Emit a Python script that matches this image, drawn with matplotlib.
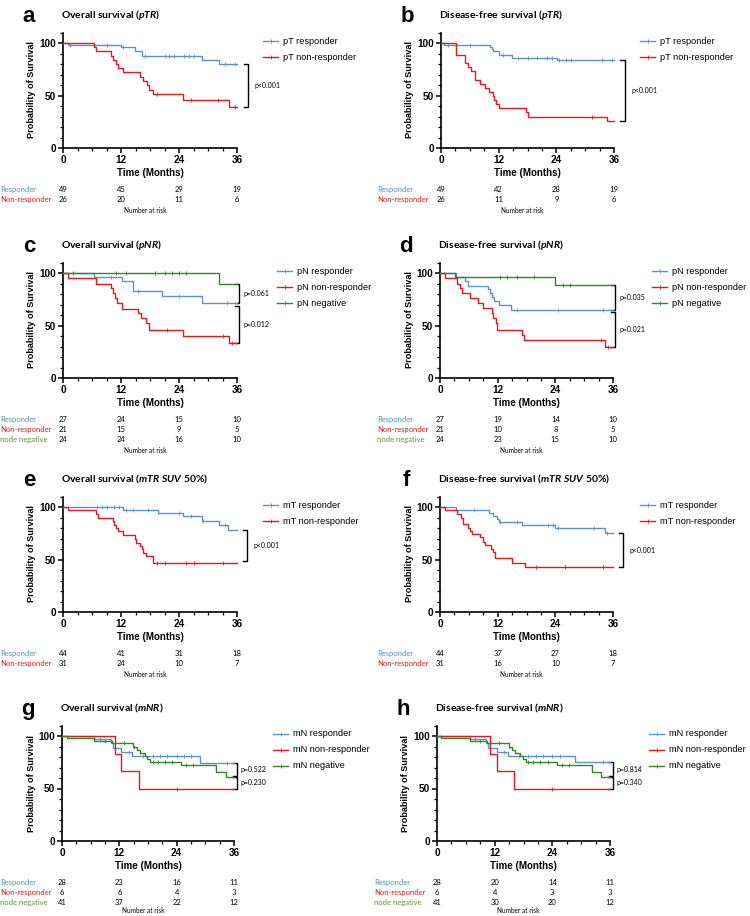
import matplotlib
matplotlib.use('Agg')
import matplotlib.pyplot as plt
from matplotlib.lines import Line2D
from matplotlib.ticker import MultipleLocator
import numpy as np

plt.rcParams['font.family'] = ['Liberation Sans', 'DejaVu Sans']
plt.rcParams['mathtext.fontset'] = 'custom'
plt.rcParams['mathtext.it'] = 'Lato:italic:bold'
plt.rcParams['mathtext.rm'] = 'Lato:bold'

W, H = 750, 916
BLUE = '#5b93cc'
RED = '#e8161e'
GREEN = '#2f8a22'
TBLUE = '#4f93bd'
TRED = '#e3181b'
TGREEN = '#5a9a3a'

risk_times = [0, 12, 24, 36]

# ---- a: overall survival, pTR
a_resp_t = [1.0, 12.1, 14.9, 16.3, 28.7, 32.2]
a_resp_s = [98, 96, 92, 88, 84, 80]
a_resp_c = [1.5, 9, 12.5, 17, 21, 22, 23, 25, 26, 27, 33.5, 35.5]
a_non_t = [6.4, 6.9, 10.0, 10.4, 10.9, 11.3, 12.5, 15.9, 16.5, 17.3, 17.8, 18.6, 24.8, 34.3]
a_non_s = [96, 92, 88, 84, 80, 76, 72, 68, 64, 60, 55, 51, 46, 39]
a_non_c = [19.5, 26.5, 32, 35.5]
a_risk_resp = [49, 45, 29, 19]
a_risk_non = [26, 20, 11, 6]

# ---- b: disease-free survival, pTR
b_resp_t = [0.6, 10.2, 10.6, 10.9, 12.0, 14.7, 24.1]
b_resp_s = [98, 96, 94, 92, 89, 86, 84]
b_resp_c = [1.5, 6, 13, 16, 18, 20, 22, 23, 24.5, 26, 27, 33.5, 35.5]
b_non_t = [3.2, 5.0, 5.6, 6.2, 7.0, 8.2, 9.2, 9.9, 10.8, 11.1, 11.5, 12.1, 17.7, 18.0, 34.6]
b_non_s = [89, 81, 77, 73, 65, 61, 57, 53, 50, 46, 42, 38, 34, 30, 26]
b_non_c = [31.5]
b_risk_resp = [49, 42, 28, 19]
b_risk_non = [26, 11, 9, 6]

# ---- c: overall survival, pNR
c_resp_t = [6.4, 12.3, 14.5, 20.4, 28.7]
c_resp_s = [96, 92, 83, 78, 71]
c_resp_c = [10, 15.5, 24, 34]
c_non_t = [1.0, 6.9, 10.0, 10.4, 10.7, 11.1, 12.3, 15.6, 16.1, 17.2, 17.7, 24.8, 34.3]
c_non_s = [95, 90, 86, 81, 76, 71, 66, 62, 57, 52, 46, 40, 33]
c_non_c = [21.5, 33, 35]
c_neg_t = [32.2]
c_neg_s = [90]
c_neg_c = [2, 11, 13, 19, 21, 22.5, 24, 25.5]
c_risk_resp = [27, 24, 15, 10]
c_risk_non = [21, 15, 9, 5]
c_risk_neg = [24, 24, 16, 10]

# ---- d: disease-free survival, pNR
d_resp_t = [3.3, 5.2, 5.9, 9.9, 10.4, 10.8, 11.2, 12.2, 14.8]
d_resp_s = [96, 92, 88, 85, 81, 77, 73, 70, 65]
d_resp_c = [16, 24.5, 34]
d_non_t = [1.0, 3.5, 4.2, 4.6, 6.3, 8.0, 9.0, 10.8, 11.1, 11.6, 11.8, 17.0, 17.4, 34.3]
d_non_s = [95, 90, 86, 81, 76, 71, 67, 62, 57, 52, 46, 41, 36, 30]
d_non_c = [33.5, 35]
d_neg_t = [3.1, 24.0]
d_neg_s = [96, 89]
d_neg_c = [12.5, 14, 16, 19.5, 25.5, 27]
d_risk_resp = [27, 19, 14, 10]
d_risk_non = [21, 10, 8, 5]
d_risk_neg = [24, 23, 15, 10]

# ---- e: overall survival, mTR SUV 50%
e_resp_t = [12.4, 19.7, 24.8, 28.8, 32.3, 34.1]
e_resp_s = [97, 94, 91, 87, 83, 78]
e_resp_c = [7, 8, 9, 10.5, 11.5, 13, 14.5, 17.5, 24, 26.5, 29, 33.5]
e_non_t = [1.0, 6.9, 7.3, 10.3, 10.6, 11.0, 11.4, 12.4, 14.8, 15.1, 15.9, 16.3, 16.6, 17.2, 18.6]
e_non_s = [97, 93, 90, 87, 83, 80, 77, 73, 70, 66, 63, 60, 56, 53, 47]
e_non_c = [19.5, 21, 25.5, 27, 33]
e_risk_resp = [44, 41, 31, 18]
e_risk_non = [31, 24, 10, 7]

# ---- f: disease-free survival, mTR SUV 50%
f_resp_t = [3.3, 10.2, 11.1, 11.8, 12.3, 17.0, 23.9, 34.3]
f_resp_s = [97, 94, 91, 89, 86, 83, 80, 75]
f_resp_c = [7, 12.5, 16, 22.5, 23.5, 24.5, 32, 34.8]
f_non_t = [1.0, 3.5, 4.3, 4.7, 5.8, 6.3, 6.6, 8.3, 9.0, 9.3, 10.7, 11.0, 11.4, 14.9, 17.7]
f_non_s = [97, 93, 90, 84, 80, 77, 74, 71, 67, 64, 60, 57, 51, 47, 43]
f_non_c = [20, 26, 34]
f_risk_resp = [44, 37, 27, 18]
f_risk_non = [31, 16, 10, 7]

# ---- g: overall survival, mNR
g_resp_t = [6.8, 10.3, 10.7, 12.4, 14.7, 28.8]
g_resp_s = [97, 93, 89, 85, 81, 74]
g_resp_c = [8, 14, 17, 19, 20.5, 22, 24, 25.5, 27, 34.5]
g_non_t = [11.0, 12.4, 16.1]
g_non_s = [83, 67, 50]
g_non_c = [24]
g_neg_t = [1.1, 6.8, 10.5, 14.9, 15.7, 16.3, 17.3, 17.8, 18.5, 25.0, 32.3, 34.3]
g_neg_s = [98, 95, 93, 90, 87, 84, 81, 78, 75, 72, 66, 61]
g_neg_c = [9, 13, 15, 19, 20, 21.5, 23, 26, 27.5]
g_risk_resp = [28, 23, 16, 11]
g_risk_non = [6, 6, 4, 3]
g_risk_neg = [41, 37, 22, 12]

# ---- h: disease-free survival, mNR
h_resp_t = [6.8, 10.3, 10.7, 12.4, 14.7, 28.7]
h_resp_s = [97, 93, 89, 85, 81, 75]
h_resp_c = [8, 14, 17, 19, 20.5, 22, 24, 25.5, 34.5]
h_non_t = [11.0, 12.4, 16.0]
h_non_s = [83, 67, 50]
h_non_c = [24]
h_neg_t = [0.9, 6.8, 10.4, 14.9, 15.6, 16.3, 17.2, 17.9, 18.5, 24.9, 32.3, 34.1]
h_neg_s = [98, 95, 93, 90, 87, 84, 81, 78, 75, 72, 66, 61]
h_neg_c = [9, 13, 15, 19, 20, 21.5, 23, 26, 27.5]
h_risk_resp = [28, 20, 14, 11]
h_risk_non = [6, 4, 3, 3]
h_risk_neg = [41, 30, 20, 12]

fig = plt.figure(figsize=(7.5, 9.16), dpi=100)


def ftext(x, y, s, **kw):
    fig.text(x / W, 1 - y / H, s, **kw)


def panel(letter, title, tag, L, R, y0, curves, risk, brackets, bx, tx, leg_dx, lab_x):
    ax = fig.add_axes([L / W, 1 - y0 / H, (R - L) / W, 115.5 / H])
    ax.set_xlim(0, 36)
    ax.set_ylim(0, 110)
    for sp in ['top', 'right']:
        ax.spines[sp].set_visible(False)
    for sp in ['left', 'bottom']:
        ax.spines[sp].set_linewidth(1.2)
    ax.set_xticks(risk_times)
    ax.set_yticks([0, 50, 100])
    ax.xaxis.set_minor_locator(MultipleLocator(3))
    ax.yaxis.set_minor_locator(MultipleLocator(10))
    ax.tick_params(which='major', length=3.5, width=1.1, labelsize=7.2, pad=1.5)
    ax.tick_params(which='minor', length=2, width=0.9)
    for lbl in ax.get_xticklabels() + ax.get_yticklabels():
        lbl.set_fontweight('bold')

    for i, (t, s, cens, col, lab) in enumerate(curves):
        xs = np.array([0] + t + [36])
        ys = np.array([100] + s + [s[-1]])
        ax.step(xs, ys, where='post', color=col, lw=1.0, clip_on=False, zorder=3)
        idx = np.searchsorted(xs, cens, side='right') - 1
        ax.plot(cens, ys[idx], ls='none', marker='|', ms=3, mew=0.6, color=col, zorder=3)
        # legend entry
        ly = y0 - 107 + 16 * i
        x1 = R + leg_dx
        fig.add_artist(Line2D([x1 / W, (x1 + 15) / W], [1 - ly / H] * 2, color=col, lw=1.0))
        fig.add_artist(Line2D([(x1 + 7.5) / W], [1 - ly / H], color=col, marker='|', ms=3, mew=0.6))
        ftext(x1 + 20, ly, lab, fontsize=6.6, va='center')

    for top, bot, ptxt in brackets:
        ax.plot([bx - 0.9, bx, bx, bx - 0.9], [top, top, bot, bot], color='k',
                lw=1.0, clip_on=False)
        ax.text(bx + tx, (top + bot) / 2, ptxt, fontsize=5, family='Lato', va='center')

    ftext(L - 34, y0 - 126, letter, fontsize=16, fontweight='bold', ha='center', va='baseline')
    ftext(L - 2, y0 - 130, title + r'($\mathit{' + tag + r'}$)', fontsize=7.5,
          fontweight='bold', family='Lato', va='baseline')
    ftext(L - 31, y0 - 58, 'Probability of Survival', fontsize=6.6, fontweight='bold',
          rotation=90, ha='center', va='center')
    ftext((L + R) / 2, y0 + 25, 'Time (Months)', fontsize=7, fontweight='bold',
          ha='center', va='center')

    for j, (name, vals, col) in enumerate(risk):
        ry = y0 + 41.5 + 10 * j
        ftext(lab_x, ry, name, fontsize=5.5, family='Lato', color=col, va='center')
        for t, v in zip(risk_times, vals):
            ftext(L + t / 36 * (R - L), ry, str(v), fontsize=5.5, family='Lato',
                  ha='center', va='center')
    ny = min(y0 + 41.5 + 10 * len(risk) + 1.0, 910.5)
    ftext((L + R) / 2 - 5, ny, 'Number at risk',
          fontsize=4.7, family='Lato', ha='center', va='center')


panel('a', 'Overall survival ', 'pTR', 63, 237, 148,
      [(a_resp_t, a_resp_s, a_resp_c, BLUE, 'pT responder'),
       (a_non_t, a_non_s, a_non_c, RED, 'pT non-responder')],
      [('Responder', a_risk_resp, TBLUE), ('Non-responder', a_risk_non, TRED)],
      [(a_resp_s[-1], a_non_s[-1], 'p<0.001')], 38.3, 1.4, 26, 0)

panel('b', 'Disease-free survival ', 'pTR', 441, 614, 148,
      [(b_resp_t, b_resp_s, b_resp_c, BLUE, 'pT responder'),
       (b_non_t, b_non_s, b_non_c, RED, 'pT non-responder')],
      [('Responder', b_risk_resp, TBLUE), ('Non-responder', b_risk_non, TRED)],
      [(b_resp_s[-1], b_non_s[-1], 'p<0.001')], 38.2, 1.4, 26, 377)

panel('c', 'Overall survival ', 'pNR', 63, 237, 378,
      [(c_resp_t, c_resp_s, c_resp_c, BLUE, 'pN responder'),
       (c_non_t, c_non_s, c_non_c, RED, 'pN non-responder'),
       (c_neg_t, c_neg_s, c_neg_c, GREEN, 'pN negative')],
      [('Responder', c_risk_resp, TBLUE), ('Non-responder', c_risk_non, TRED),
       ('node negative', c_risk_neg, TGREEN)],
      [(c_neg_s[-1], c_resp_s[-1], 'p=0.061'), (c_resp_s[-1] - 2, c_non_s[-1], 'p=0.012')],
      36.5, 0.8, 40, 0)

panel('d', 'Disease-free survival ', 'pNR', 440, 613, 378,
      [(d_resp_t, d_resp_s, d_resp_c, BLUE, 'pN responder'),
       (d_non_t, d_non_s, d_non_c, RED, 'pN non-responder'),
       (d_neg_t, d_neg_s, d_neg_c, GREEN, 'pN negative')],
      [('Responder', d_risk_resp, TBLUE), ('Non-responder', d_risk_non, TRED),
       ('node negative', d_risk_neg, TGREEN)],
      [(d_neg_s[-1], d_resp_s[-1], 'p=0.035'), (d_resp_s[-1] - 2, d_non_s[-1], 'p=0.021')],
      36.5, 0.8, 39, 377)

panel('e', 'Overall survival ', r'mTR\ SUV\ 50\%', 63, 237, 612,
      [(e_resp_t, e_resp_s, e_resp_c, BLUE, 'mT responder'),
       (e_non_t, e_non_s, e_non_c, RED, 'mT non-responder')],
      [('Responder', e_risk_resp, TBLUE), ('Non-responder', e_risk_non, TRED)],
      [(e_resp_s[-1], e_non_s[-1] + 2, 'p<0.001')], 38.1, 1.4, 26, 0)

panel('f', 'Disease-free survival ', r'mTR\ SUV\ 50\%', 440, 613, 612,
      [(f_resp_t, f_resp_s, f_resp_c, BLUE, 'mT responder'),
       (f_non_t, f_non_s, f_non_c, RED, 'mT non-responder')],
      [('Responder', f_risk_resp, TBLUE), ('Non-responder', f_risk_non, TRED)],
      [(f_resp_s[-1], f_non_s[-1], 'p<0.001')], 38.1, 1.4, 27, 377)

panel('g', 'Overall survival ', 'mNR', 62, 234, 841,
      [(g_resp_t, g_resp_s, g_resp_c, BLUE, 'mN responder'),
       (g_non_t, g_non_s, g_non_c, RED, 'mN non-responder'),
       (g_neg_t, g_neg_s, g_neg_c, GREEN, 'mN negative')],
      [('Responder', g_risk_resp, TBLUE), ('Non-responder', g_risk_non, TRED),
       ('node negative', g_risk_neg, TGREEN)],
      [(g_resp_s[-1], g_neg_s[-1] + 0.5, 'p=0.522'), (g_neg_s[-1] - 0.5, g_non_s[-1], 'p=0.230')],
      36.6, 0.8, 39, 0)

panel('h', 'Disease-free survival ', 'mNR', 437, 610, 841,
      [(h_resp_t, h_resp_s, h_resp_c, BLUE, 'mN responder'),
       (h_non_t, h_non_s, h_non_c, RED, 'mN non-responder'),
       (h_neg_t, h_neg_s, h_neg_c, GREEN, 'mN negative')],
      [('Responder', h_risk_resp, TBLUE), ('Non-responder', h_risk_non, TRED),
       ('node negative', h_risk_neg, TGREEN)],
      [(h_resp_s[-1], h_neg_s[-1] + 0.5, 'p=0.814'), (h_neg_s[-1] - 0.5, h_non_s[-1], 'p=0.340')],
      36.6, 0.8, 39, 374)

fig.savefig('out.png', dpi=100)
